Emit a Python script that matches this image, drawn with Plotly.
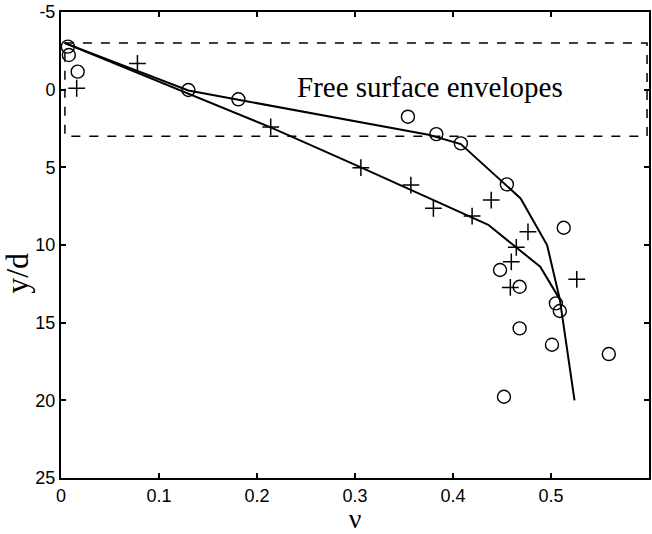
import plotly.graph_objects as go

# Data
circle_x = [0.007, 0.008, 0.017, 0.130, 0.181, 0.354, 0.383, 0.408, 0.455, 0.513,
            0.448, 0.468, 0.505, 0.509, 0.468, 0.501, 0.559, 0.452]
circle_y = [-2.77, -2.23, -1.16, 0.02, 0.62, 1.74, 2.86, 3.46, 6.10, 8.89,
            11.61, 12.69, 13.76, 14.25, 15.37, 16.42, 17.02, 19.77]

cross_x = [0.016, 0.078, 0.214, 0.306, 0.357, 0.380, 0.4195, 0.439, 0.4765,
           0.4646, 0.4595, 0.4585, 0.5263]
cross_y = [-0.09, -1.69, 2.40, 5.02, 6.14, 7.64, 8.14, 7.11, 9.15,
           10.15, 11.08, 12.73, 12.21]

circ_line_x = [0.004, 0.130, 0.181, 0.375, 0.408, 0.469, 0.496, 0.509, 0.524]
circ_line_y = [-3.0, 0.05, 0.65, 2.90, 3.50, 7.00, 10.00, 13.50, 20.00]

cross_line_x = [0.004, 0.214, 0.306, 0.436, 0.489, 0.509]
cross_line_y = [-3.0, 2.43, 5.00, 8.70, 11.40, 13.50]

envelope_x = [0.004, 0.598]
envelope_y = [-3, 3]

x_ticks = [0, 0.1, 0.2, 0.3, 0.4, 0.5]
x_tick_labels = ["0", "0.1", "0.2", "0.3", "0.4", "0.5"]
y_ticks = [-5, 0, 5, 10, 15, 20, 25]
y_tick_labels = ["-5", "0", "5", "10", "15", "20", "25"]

fig = go.Figure()

fig.add_trace(go.Scatter(x=circ_line_x, y=circ_line_y, mode="lines",
                         line=dict(color="black", width=2), showlegend=False))
fig.add_trace(go.Scatter(x=cross_line_x, y=cross_line_y, mode="lines",
                         line=dict(color="black", width=2), showlegend=False))
fig.add_trace(go.Scatter(x=circle_x, y=circle_y, mode="markers",
                         marker=dict(symbol="circle-open", size=13, color="black",
                                     line=dict(width=1.4, color="black")),
                         showlegend=False))
fig.add_trace(go.Scatter(x=cross_x, y=cross_y, mode="markers",
                         marker=dict(symbol="cross-thin-open", size=12, color="black",
                                     line=dict(width=1.5, color="black")),
                         showlegend=False))

fig.add_shape(type="rect", xref="x", yref="y",
              x0=envelope_x[0], x1=envelope_x[1], y0=envelope_y[0], y1=envelope_y[1],
              line=dict(color="black", width=1.5, dash="dash"))

fig.add_annotation(x=0.3764, y=-0.2, xref="x", yref="y", text="Free surface envelopes",
                   showarrow=False, xanchor="center", yanchor="middle",
                   font=dict(family="Liberation Serif", size=29, color="black"))

fig.add_annotation(x=-0.075, y=0.44, xref="paper", yref="paper", text="y/d",
                   textangle=-90, showarrow=False, xanchor="center", yanchor="middle",
                   font=dict(family="Liberation Serif", size=32, color="black"))

fig.update_xaxes(range=[0, 0.6], tickmode="array", tickvals=x_ticks, ticktext=x_tick_labels,
                 ticks="inside", ticklen=5, tickwidth=1.5, tickcolor="black",
                 showline=True, linecolor="black", linewidth=2, mirror="ticks",
                 showgrid=False, zeroline=False,
                 tickfont=dict(family="Liberation Sans", size=18, color="black"),
                 title=dict(text="ν", font=dict(family="Liberation Serif", size=28, color="black"),
                            standoff=4))
fig.update_yaxes(range=[25, -5], tickmode="array", tickvals=y_ticks, ticktext=y_tick_labels,
                 ticks="inside", ticklen=5, tickwidth=1.5, tickcolor="black",
                 showline=True, linecolor="black", linewidth=2, mirror="ticks",
                 showgrid=False, zeroline=False,
                 tickfont=dict(family="Liberation Sans", size=18, color="black"))

fig.update_layout(width=652, height=534,
                  margin=dict(l=61, r=1, t=12, b=56),
                  plot_bgcolor="white", paper_bgcolor="white")

fig.write_html("out.html")
